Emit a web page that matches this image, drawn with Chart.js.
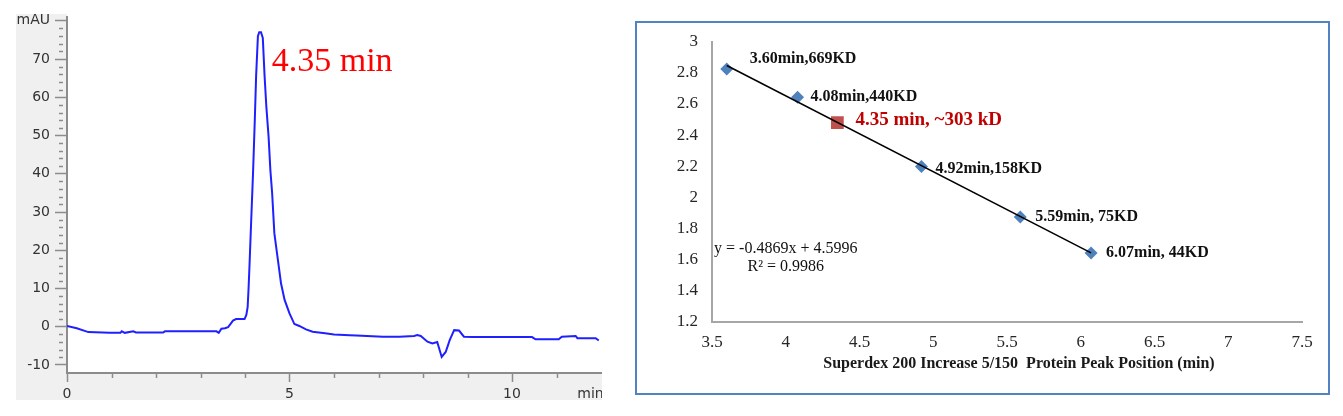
<!DOCTYPE html>
<html>
<head>
<meta charset="utf-8">
<script src="https://cdn.jsdelivr.net/npm/chart.js@4.4.1/dist/chart.umd.min.js"></script>
<style>
  body { margin: 0; background: #fff; width: 1343px; height: 416px; overflow: hidden; position: relative; }
  #leftBg { position: absolute; left: 16px; top: 14px; width: 586px; height: 386px; background: #f0f0f0; }
  #leftWrap { position: absolute; left: 0; top: 0; width: 602px; height: 400px; }
  #rightBox { position: absolute; left: 635px; top: 21px; width: 695px; height: 374px; border: 2px solid #5082c4; box-sizing: border-box; background: #fff; }
  #rightWrap { position: absolute; left: 0; top: 0; width: 691px; height: 370px; }
</style>
</head>
<body>
<div id="leftBg"></div>
<div id="leftWrap"><canvas id="chromChart"></canvas></div>
<div id="rightBox"><div id="rightWrap"><canvas id="calChart"></canvas></div></div>
<script>
// chromatogram trace (min, mAU)
const traceTime = [0.00, 0.22, 0.48, 0.96, 1.20, 1.23, 1.30, 1.49, 1.55, 2.16, 2.20, 3.36, 3.41, 3.47, 3.55, 3.62, 3.68, 3.73, 3.80, 3.99,
  4.03, 4.06, 4.08, 4.10, 4.14, 4.18, 4.22, 4.25, 4.29, 4.32, 4.36, 4.40, 4.44, 4.48, 4.53, 4.57, 4.61, 4.66, 4.74, 4.81, 4.89, 5.00, 5.11,
  5.22, 5.37, 5.52, 5.80, 6.00, 6.35, 6.50, 7.10, 7.47, 7.80, 7.87, 7.95, 8.10, 8.21, 8.32, 8.42, 8.51, 8.60, 8.70, 8.81, 8.92, 9.11,
  10.45, 10.53, 11.05, 11.12, 11.43, 11.47, 11.88, 11.95];
const traceAbs = [0.2, -0.4, -1.4, -1.6, -1.6, -1.2, -1.6, -1.2, -1.5, -1.5, -1.2, -1.2, -1.6, -0.5, -0.4, -0.1, 0.8, 1.6, 2.0, 2.0,
  3.1, 5.2, 10, 15.7, 28, 40, 54, 65.6, 76, 77, 77, 75.5, 65.6, 57.5, 49.7, 41, 34.9, 24.4, 17.4, 11.3, 7, 3.5, 0.7,
  0.2, -0.7, -1.3, -1.7, -2.0, -2.2, -2.3, -2.6, -2.6, -2.4, -2.2, -2.4, -3.9, -4.4, -4.0, -7.9, -6.6, -3.5, -0.9, -1.0, -2.6, -2.7,
  -2.7, -3.3, -3.3, -2.6, -2.4, -3.0, -3.0, -3.6];
const chromXTicks = [0, 5, 10, 12];
const chromYTicks = [-10, 0, 10, 20, 30, 40, 50, 60, 70, 80];
const peakLabel = '4.35 min';
const peakLabelAt = [4.6, 67];

// calibration curve
const stdTime = [3.60, 4.08, 4.92, 5.59, 6.07];
const stdLogMw = [2.825, 2.643, 2.199, 1.875, 1.643];
const stdLabels = ['3.60min,669KD', '4.08min,440KD', '4.92min,158KD', '5.59min, 75KD', '6.07min, 44KD'];
const sampleTime = [4.35];
const sampleLogMw = [2.481];
const sampleLabel = '4.35 min, ~303 kD';
const fitTime = [3.60, 6.07];
const fitLogMw = [2.847, 1.644];
const fitText = ['y = -0.4869x + 4.5996', 'R\u00b2 = 0.9986'];
const fitTextAt = [4.0, 1.667];
const calXTicks = [3.5, 4, 4.5, 5, 5.5, 6, 6.5, 7, 7.5];
const calYTicks = [1.2, 1.4, 1.6, 1.8, 2, 2.2, 2.4, 2.6, 2.8, 3];

const stdLabelOffsets = [[23, -10], [13, 0], [14, 2], [15, 0], [15, 0]];

function pts(xs, ys) {
  return xs.map((v, i) => ({x: v, y: ys[i]}));
}

const axisGray = '#8c8c8c';

const chromDecor = {
  id: 'chromDecor',
  beforeDraw(chart) {
    const {ctx, chartArea: a} = chart;
    ctx.save();
    ctx.fillStyle = '#fff';
    ctx.fillRect(a.left, 0, a.right - a.left + 2, a.bottom);
    ctx.restore();
  },
  afterDraw(chart) {
    const {ctx, chartArea: a, scales: {x, y}} = chart;
    ctx.save();
    ctx.strokeStyle = axisGray;
    ctx.lineWidth = 1.5;
    ctx.beginPath();
    // minor ticks, every 2 mAU and every minute
    for (let v = -10; v <= 80; v += 2) {
      if (v % 10 === 0) continue;
      const py = Math.round(y.getPixelForValue(v)) + 0.5;
      ctx.moveTo(a.left - 8, py);
      ctx.lineTo(a.left - 4, py);
    }
    for (let v = 1; v < 12; v++) {
      if (v % 5 === 0) continue;
      const px = Math.round(x.getPixelForValue(v)) + 0.5;
      ctx.moveTo(px, a.bottom + 1);
      ctx.lineTo(px, a.bottom + 5);
    }
    ctx.stroke();
    ctx.font = '34px "Liberation Serif"';
    ctx.fillStyle = '#ff0000';
    ctx.textBaseline = 'alphabetic';
    ctx.fillText(peakLabel, x.getPixelForValue(peakLabelAt[0]), y.getPixelForValue(peakLabelAt[1]));
    ctx.restore();
  }
};

new Chart(document.getElementById('chromChart'), {
  type: 'line',
  data: {
    datasets: [{
      data: pts(traceTime, traceAbs),
      borderColor: '#2020ff',
      borderWidth: 2,
      pointRadius: 0,
      tension: 0,
      fill: false
    }]
  },
  options: {
    responsive: true,
    maintainAspectRatio: false,
    animation: false,
    layout: {padding: {top: 17, right: 1, bottom: 0, left: 0}},
    plugins: {legend: {display: false}, tooltip: {enabled: false}},
    scales: {
      x: {
        type: 'linear', min: 0, max: 12,
        afterBuildTicks: s => { s.ticks = chromXTicks.map(v => ({value: v})); },
        afterFit: s => { s.height = 27; s.paddingLeft = 0; s.paddingRight = 0; },
        ticks: {
          callback: v => v === 12 ? 'min\u2003\u2002' : String(v),
          font: {family: 'DejaVu Sans', size: 14},
          color: '#333', padding: 4, maxRotation: 0, autoSkip: false
        },
        grid: {
          drawOnChartArea: false, tickLength: 9, tickWidth: 1.5,
          tickColor: c => (c.tick && c.tick.value === 12) ? 'rgba(0,0,0,0)' : axisGray
        },
        border: {color: axisGray, width: 2}
      },
      y: {
        min: -12.1, max: 81,
        afterBuildTicks: s => { s.ticks = chromYTicks.map(v => ({value: v})); },
        afterFit: s => { s.width = 67; s.paddingTop = 0; s.paddingBottom = 0; },
        ticks: {
          callback: v => v === 80 ? 'mAU' : String(v),
          font: {family: 'DejaVu Sans', size: 14},
          color: '#333', padding: 5
        },
        grid: {drawOnChartArea: false, tickLength: 12, tickWidth: 1.5, tickColor: axisGray},
        border: {color: axisGray, width: 2}
      }
    }
  },
  plugins: [chromDecor]
});

const calLabels = {
  id: 'calLabels',
  afterDatasetsDraw(chart) {
    const {ctx, scales: {x, y}} = chart;
    ctx.save();
    ctx.textBaseline = 'middle';
    ctx.textAlign = 'left';
    ctx.font = 'bold 16px "Liberation Serif"';
    ctx.fillStyle = '#111';
    chart.getDatasetMeta(2).data.forEach((pt, i) => {
      ctx.fillText(stdLabels[i], pt.x + stdLabelOffsets[i][0], pt.y + stdLabelOffsets[i][1]);
    });
    const s = chart.getDatasetMeta(1).data[0];
    ctx.font = 'bold 19px "Liberation Serif"';
    ctx.fillStyle = '#c00000';
    ctx.fillText(sampleLabel, s.x + 18, s.y - 2);
    ctx.font = '16px "Liberation Serif"';
    ctx.fillStyle = '#111';
    ctx.textAlign = 'center';
    fitText.forEach((t, i) => {
      ctx.fillText(t, x.getPixelForValue(fitTextAt[0]), y.getPixelForValue(fitTextAt[1]) + i * 17.4);
    });
    ctx.restore();
  }
};

const serif = 'Liberation Serif';

new Chart(document.getElementById('calChart'), {
  type: 'scatter',
  data: {
    datasets: [
      {data: pts(fitTime, fitLogMw), showLine: true, borderColor: '#000', borderWidth: 1.5, pointRadius: 0, fill: false},
      {data: pts(sampleTime, sampleLogMw), pointStyle: 'rect', pointRadius: 9, backgroundColor: '#c0504d', borderColor: '#c0504d', borderWidth: 0},
      {data: pts(stdTime, stdLogMw), pointStyle: 'rectRot', pointRadius: 6.5, backgroundColor: '#4f81bd', borderColor: '#4f81bd', borderWidth: 0}
    ]
  },
  options: {
    responsive: true,
    maintainAspectRatio: false,
    animation: false,
    layout: {padding: {top: 18.7, right: 26, bottom: 0, left: 0}},
    plugins: {legend: {display: false}, tooltip: {enabled: false}},
    scales: {
      x: {
        type: 'linear', min: 3.5, max: 7.5,
        afterBuildTicks: s => { s.ticks = calXTicks.map(v => ({value: v})); },
        afterFit: s => { s.height = 71; },
        ticks: {callback: v => String(v), font: {family: serif, size: 17}, color: '#262626', padding: 10, maxRotation: 0, autoSkip: false},
        grid: {display: false, drawTicks: false},
        border: {color: '#a6a6a6', width: 2},
        title: {
          display: true,
          text: '\u2002\u2002\u2002Superdex 200 Increase 5/150  Protein Peak Position (min)',
          font: {family: serif, size: 16, weight: 'bold'},
          color: '#1a1a1a',
          padding: {top: 0, bottom: 20}
        }
      },
      y: {
        min: 1.2, max: 3,
        afterBuildTicks: s => { s.ticks = calYTicks.map(v => ({value: v})); },
        afterFit: s => { s.width = 75; s.paddingTop = 0; s.paddingBottom = 0; },
        ticks: {callback: v => String(Math.round(v * 10) / 10), font: {family: serif, size: 17}, color: '#262626', padding: 14},
        grid: {display: false, drawTicks: false},
        border: {color: '#a6a6a6', width: 2}
      }
    }
  },
  plugins: [calLabels]
});
</script>
</body>
</html>
